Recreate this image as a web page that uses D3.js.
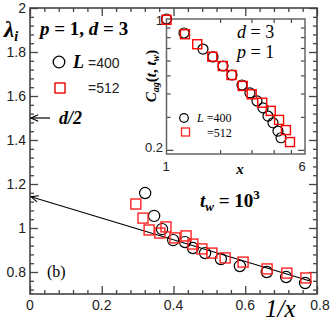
<!DOCTYPE html>
<html>
<head>
<meta charset="utf-8">
<script src="https://cdn.jsdelivr.net/npm/d3@7"></script>
<style>
  body { margin: 0; background: #fff; }
  svg { display: block; }
  .tl { font-family: "Liberation Sans", Arial, sans-serif; font-size: 14px; fill: #222; }
  .ser { font-family: "Liberation Serif", "Times New Roman", serif; fill: #000; }
</style>
</head>
<body>
<div id="graph"></div>
<script>
// main panel: lambda_i vs 1/x
var invX400 = [0.321, 0.346, 0.368, 0.399, 0.432, 0.454, 0.488, 0.532, 0.585, 0.660, 0.714, 0.767]
var lam400  = [1.159, 1.055, 0.995, 0.945, 0.936, 0.909, 0.886, 0.859, 0.827, 0.800, 0.777, 0.750]
var invX512 = [0.295, 0.315, 0.332, 0.362, 0.379, 0.404, 0.435, 0.454, 0.479, 0.507, 0.544, 0.594, 0.661, 0.716, 0.769]
var lam512  = [1.109, 1.045, 0.991, 0.977, 1.005, 0.955, 0.964, 0.927, 0.905, 0.886, 0.864, 0.845, 0.814, 0.795, 0.773]
var fitLine = [[0, 1.142], [0.785, 0.757]]
var dHalf = 1.5

// inset: C_ag(t,t_w) vs x
var xs400 = [1.0, 1.254, 1.603, 1.825, 2.077, 2.333, 2.655, 2.944, 3.224, 3.485, 3.717, 3.966, 4.23, 4.40]
var cag400 = [1.0, 0.842, 0.691, 0.627, 0.561, 0.502, 0.444, 0.403, 0.365, 0.335, 0.303, 0.279, 0.252, 0.232]
var xs512 = [1.0, 1.27, 1.489, 1.808, 2.07, 2.32, 2.68, 3.01, 3.45, 3.85, 4.29, 4.69, 4.94]
var cag512 = [0.99, 0.829, 0.733, 0.629, 0.561, 0.502, 0.439, 0.396, 0.357, 0.323, 0.289, 0.255, 0.22]

var xTickLabels = [0, 0.2, 0.4, 0.6, 0.8]
var yTickLabels = [0.8, 1, 1.2, 1.4, 1.6, 1.8, 2]

var W = 332, H = 323
var svg = d3.select('#graph').append('svg').attr('width', W).attr('height', H)

var x = d3.scaleLinear().domain([0, 0.8]).range([30, 317])
var y = d3.scaleLinear().domain([0.7, 2.0]).range([294, 8])

var frameCol = '#444'

// minor/major tick values
var xMinor = d3.range(0, 0.8001, 0.04)
var yMinor = d3.range(0.72, 2.0001, 0.04)

function isMajor(v){ return Math.abs(v/0.2 - Math.round(v/0.2)) < 1e-6 }

function ticks(g, axisFn, scale, vals, tr){
  g.append('g').attr('transform', tr)
    .call(axisFn(scale).tickValues(vals.filter(function(v){return !isMajor(v)})).tickSize(-4).tickFormat('').tickSizeOuter(0))
  g.append('g').attr('transform', tr)
    .call(axisFn(scale).tickValues(vals.filter(isMajor)).tickSize(-8).tickFormat('').tickSizeOuter(0))
}

var main = svg.append('g')
ticks(main, d3.axisBottom, x, xMinor, 'translate(0,294)')
ticks(main, d3.axisTop, x, xMinor, 'translate(0,8)')
ticks(main, d3.axisLeft, y, yMinor, 'translate(30,0)')
ticks(main, d3.axisRight, y, yMinor, 'translate(317,0)')
main.selectAll('.domain').remove()
main.selectAll('line').attr('stroke', frameCol).attr('stroke-width', 1.3)

main.append('rect').attr('x', 30).attr('y', 8).attr('width', 287).attr('height', 286)
  .attr('fill', 'none').attr('stroke', frameCol).attr('stroke-width', 1.6)

// tick labels
main.selectAll('.xl').data(xTickLabels).enter().append('text').attr('class', 'tl')
  .attr('x', function(d){ return x(d) + (d == 0.8 ? 3 : 0) }).attr('y', 310)
  .attr('text-anchor', 'middle').text(function(d){ return d })
main.selectAll('.yl').data(yTickLabels).enter().append('text').attr('class', 'tl')
  .attr('x', 26).attr('y', function(d){ return y(d) + 5 })
  .attr('text-anchor', 'end').text(function(d){ return d })

// axis titles
main.append('text').attr('class', 'ser').attr('x', 4).attr('y', 37)
  .style('font-size', '23px').style('font-weight', 'bold').style('font-style', 'italic')
  .html('λ<tspan font-size="14px" dy="4">i</tspan>')
main.append('text').attr('class', 'ser').attr('x', 265).attr('y', 317)
  .style('font-size', '25px').style('font-style', 'italic').text('1/x')

// arrowhead marker (drawn pointing forward, reversed at the start)
svg.append('defs').append('marker').attr('id', 'ah')
  .attr('viewBox', '0 0 10 10').attr('refX', 9).attr('refY', 5)
  .attr('markerUnits', 'userSpaceOnUse')
  .attr('markerWidth', 9).attr('markerHeight', 9).attr('orient', 'auto-start-reverse')
  .append('path').attr('d', 'M1,1.5 L9,5 L1,8.5').attr('fill', 'none').attr('stroke', '#000').attr('stroke-width', 1.2)

// fit line with arrow to the axis
main.append('line')
  .attr('x1', x(fitLine[0][0]) + 1).attr('y1', y(fitLine[0][1]))
  .attr('x2', x(fitLine[1][0])).attr('y2', y(fitLine[1][1]))
  .attr('stroke', '#000').attr('stroke-width', 1.2).attr('marker-start', 'url(#ah)')

// d/2 arrow
main.append('line').attr('x1', x(0) + 1).attr('y1', y(dHalf)).attr('x2', 50).attr('y2', y(dHalf))
  .attr('stroke', '#000').attr('stroke-width', 1.2).attr('marker-start', 'url(#ah)')
main.append('text').attr('class', 'ser').attr('x', 59).attr('y', y(dHalf) + 6)
  .style('font-size', '18px').style('font-weight', 'bold').style('font-style', 'italic').text('d/2')

// annotations
main.append('text').attr('class', 'ser').attr('x', 40).attr('y', 35)
  .style('font-size', '19px').style('font-weight', 'bold')
  .html('<tspan font-style="italic">p</tspan> = 1, <tspan font-style="italic">d</tspan> = 3')
main.append('text').attr('class', 'ser').attr('x', 200).attr('y', 207)
  .style('font-size', '19px').style('font-weight', 'bold')
  .html('<tspan font-style="italic">t</tspan><tspan font-style="italic" font-size="13px" dy="4">w</tspan><tspan dy="-4"> = 10</tspan><tspan font-size="13px" dy="-8">3</tspan>')
main.append('text').attr('class', 'ser').attr('x', 47).attr('y', 277)
  .style('font-size', '16px').text('(b)')

// main legend
main.append('circle').attr('cx', 59).attr('cy', 62).attr('r', 5.8)
  .attr('fill', 'none').attr('stroke', '#000').attr('stroke-width', 1.3)
main.append('text').attr('class', 'ser').attr('x', 73).attr('y', 68)
  .style('font-size', '18px').style('font-weight', 'bold').style('font-style', 'italic').text('L')
main.append('text').attr('class', 'tl').attr('x', 88).attr('y', 68).text('=400')
main.append('rect').attr('x', 55).attr('y', 83).attr('width', 10).attr('height', 10)
  .attr('fill', 'none').attr('stroke', '#e00').attr('stroke-width', 1.4)
main.append('text').attr('class', 'tl').attr('x', 88).attr('y', 93).text('=512')

// main data
var d400 = invX400.map(function(v, i){ return [v, lam400[i]] })
var d512 = invX512.map(function(v, i){ return [v, lam512[i]] })
main.selectAll('.c4').data(d400).enter().append('circle')
  .attr('cx', function(d){ return x(d[0]) }).attr('cy', function(d){ return y(d[1]) }).attr('r', 5.6)
  .attr('fill', 'none').attr('stroke', '#000').attr('stroke-width', 1.2)
main.selectAll('.s5').data(d512).enter().append('rect')
  .attr('x', function(d){ return x(d[0]) - 5 }).attr('y', function(d){ return y(d[1]) - 5 })
  .attr('width', 10).attr('height', 10)
  .attr('fill', 'none').attr('stroke', '#f22').attr('stroke-width', 1.4)

// ---------- inset ----------
var xi = d3.scaleLog().domain([1, 6]).range([166.5, 305])
var yi = d3.scaleLog().domain([0.19, 1]).range([154, 19])
var inset = svg.append('g')
inset.append('rect').attr('x', 166.5).attr('y', 19).attr('width', 138.5).attr('height', 135)
  .attr('fill', '#fff')

var xiT = [2, 3, 4, 5]
var yiT = [0.3, 0.4, 0.5, 0.6, 0.7, 0.8, 0.9]
inset.append('g').attr('transform', 'translate(0,154)').call(d3.axisBottom(xi).tickValues(xiT).tickSize(-4).tickFormat('').tickSizeOuter(0))
inset.append('g').attr('transform', 'translate(0,19)').call(d3.axisTop(xi).tickValues(xiT).tickSize(-4).tickFormat('').tickSizeOuter(0))
inset.append('g').attr('transform', 'translate(166.5,0)').call(d3.axisLeft(yi).tickValues(yiT).tickSize(-4).tickFormat('').tickSizeOuter(0))
inset.append('g').attr('transform', 'translate(305,0)').call(d3.axisRight(yi).tickValues(yiT).tickSize(-4).tickFormat('').tickSizeOuter(0))
inset.append('g').attr('transform', 'translate(166.5,0)').call(d3.axisLeft(yi).tickValues([0.2]).tickSize(-7).tickFormat('').tickSizeOuter(0))
inset.append('g').attr('transform', 'translate(305,0)').call(d3.axisRight(yi).tickValues([0.2]).tickSize(-7).tickFormat('').tickSizeOuter(0))
inset.selectAll('.domain').remove()
inset.selectAll('line').attr('stroke', '#444').attr('stroke-width', 1.2)
inset.append('rect').attr('x', 166.5).attr('y', 19).attr('width', 138.5).attr('height', 135)
  .attr('fill', 'none').attr('stroke', '#666').attr('stroke-width', 1.5)

inset.append('text').attr('class', 'tl').attr('x', 163).attr('y', 25).attr('text-anchor', 'end').style('font-size', '13px').text('1')
inset.append('text').attr('class', 'tl').attr('x', 163).attr('y', 152).attr('text-anchor', 'end').style('font-size', '13px').text('0.2')
inset.append('text').attr('class', 'tl').attr('x', 166).attr('y', 171).attr('text-anchor', 'middle').style('font-size', '13px').text('1')
inset.append('text').attr('class', 'tl').attr('x', 302).attr('y', 171).attr('text-anchor', 'middle').style('font-size', '13px').text('6')
inset.append('text').attr('class', 'ser').attr('x', 240).attr('y', 174).attr('text-anchor', 'middle')
  .style('font-size', '15px').style('font-style', 'italic').style('font-weight', 'bold').text('x')
inset.append('text').attr('class', 'ser').attr('transform', 'translate(156,76) rotate(-90)')
  .attr('text-anchor', 'middle').style('font-size', '15px').style('font-weight', 'bold')
  .html('<tspan font-style="italic">C</tspan><tspan font-style="italic" font-size="10px" dy="3">ag</tspan><tspan dy="-3">(</tspan><tspan font-style="italic">t</tspan>, <tspan font-style="italic">t</tspan><tspan font-style="italic" font-size="10px" dy="3">w</tspan><tspan dy="-3">)</tspan>')

inset.append('text').attr('class', 'ser').attr('x', 237).attr('y', 38).style('font-size', '18px')
  .html('<tspan font-style="italic">d</tspan> = 3')
inset.append('text').attr('class', 'ser').attr('x', 237).attr('y', 58).style('font-size', '18px')
  .html('<tspan font-style="italic">p</tspan> = 1')

// inset legend
inset.append('circle').attr('cx', 184).attr('cy', 118).attr('r', 4.3)
  .attr('fill', 'none').attr('stroke', '#000').attr('stroke-width', 1.2)
inset.append('text').attr('class', 'ser').attr('x', 197).attr('y', 122).style('font-size', '12px')
  .html('<tspan font-style="italic">L</tspan> =400')
inset.append('rect').attr('x', 181.5).attr('y', 128).attr('width', 8).attr('height', 8)
  .attr('fill', 'none').attr('stroke', '#f22').attr('stroke-width', 1.3)
inset.append('text').attr('class', 'ser').attr('x', 207).attr('y', 137).style('font-size', '12px').text('=512')

var i400 = xs400.map(function(v, i){ return [v, cag400[i]] })
var i512 = xs512.map(function(v, i){ return [v, cag512[i]] })
inset.selectAll('.ic').data(i400).enter().append('circle')
  .attr('cx', function(d){ return xi(d[0]) }).attr('cy', function(d){ return yi(d[1]) }).attr('r', 5)
  .attr('fill', 'none').attr('stroke', '#000').attr('stroke-width', 1.2)
inset.selectAll('.is').data(i512).enter().append('rect')
  .attr('x', function(d){ return xi(d[0]) - 4.5 }).attr('y', function(d){ return yi(d[1]) - 4.5 })
  .attr('width', 9).attr('height', 9)
  .attr('fill', 'none').attr('stroke', '#f00').attr('stroke-width', 1.4)
</script>
</body>
</html>
